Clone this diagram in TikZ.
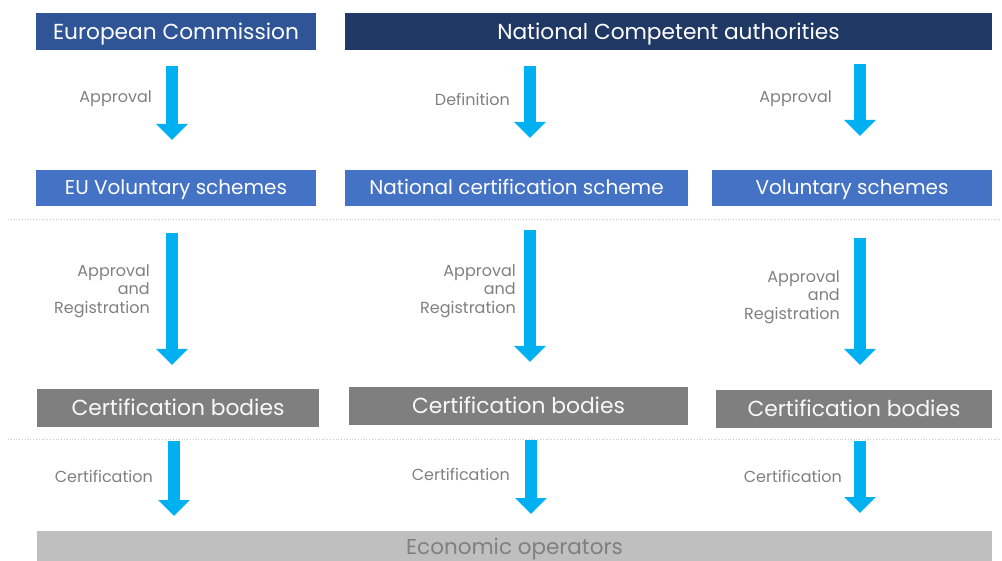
\documentclass[tikz,border=0pt]{standalone}
\usepackage{fontspec}
\setmainfont{Poppins}
\usetikzlibrary{arrows.meta}
\definecolor{ecblue}{HTML}{2F5597}
\definecolor{ncadark}{HTML}{203864}
\definecolor{schemeblue}{HTML}{4472C4}
\definecolor{cbgray}{HTML}{7F7F7F}
\definecolor{eogray}{HTML}{BFBFBF}
\definecolor{arrowcyan}{HTML}{00B0F0}
\definecolor{labelgray}{HTML}{808080}
\tikzset{
  boxbase/.style={inner sep=0pt, text depth=0pt},
  topbox/.style={boxbase, fill=#1, text=white, minimum height=37pt, text height=15.2pt, font=\fontsize{21.7}{26}\selectfont},
  schemebox/.style={boxbase, fill=schemeblue, text=white, minimum height=36pt, text height=14pt, font=\fontsize{20}{24}\selectfont},
  cbbox/.style={boxbase, fill=cbgray, text=white!95!gray, minimum height=38pt, text height=15.3pt, font=\fontsize{21.8}{26}\selectfont},
  eobox/.style={boxbase, fill=eogray, text=labelgray, minimum height=36pt, text height=15.2pt, text depth=4.5pt, font=\fontsize{21.5}{26}\selectfont},
  flowarrow/.style={draw=arrowcyan, line width=12pt, -{Triangle[width=31pt,length=16pt]}},
  lbl/.style={text=labelgray, anchor=east, align=right, inner sep=0pt, font=\fontsize{16}{18.5}\selectfont},
  sep/.style={draw=gray!45, dotted, line width=0.8pt}
}
\begin{document}
\begin{tikzpicture}[x=1pt,y=-1pt]
\useasboundingbox (0,0) rectangle (1002,561);
\clip (0,0) rectangle (1002,561);
% separators
\coordinate (s1a) at (8,219); \coordinate (s1b) at (1000,219);
\coordinate (s2a) at (8,439); \coordinate (s2b) at (1000,439);
\draw[sep] (s1a) -- (s1b);
\draw[sep] (s2a) -- (s2b);
% top boxes
\node[topbox=ecblue, minimum width=280pt] (ec) at (176,31.5) {European Commission};
\node[topbox=ncadark, minimum width=647pt] (nca) at (668.5,31.5) {National Competent authorities};
% scheme boxes
\node[schemebox, minimum width=280pt] (euv) at (176,188) {EU Voluntary schemes};
\node[schemebox, minimum width=343pt] (ncs) at (516.5,188) {National certification scheme};
\node[schemebox, minimum width=280pt] (vs) at (852,188) {Voluntary schemes};
% certification bodies
\node[cbbox, minimum width=282pt] (cb1) at (178,408) {Certification bodies};
\node[cbbox, minimum width=339pt] (cb2) at (518.5,406) {Certification bodies};
\node[cbbox, minimum width=276pt] (cb3) at (854,409) {Certification bodies};
% economic operators
\node[eobox, minimum width=955pt] (eo) at (514.5,549) {Economic operators};
% arrow coordinates
\coordinate (a1s) at (172,66);  \coordinate (a1e) at (172,140);
\coordinate (a2s) at (530,66);  \coordinate (a2e) at (530,138);
\coordinate (a3s) at (860,64);  \coordinate (a3e) at (860,136);
\coordinate (a4s) at (172,233); \coordinate (a4e) at (172,365);
\coordinate (a5s) at (530,230); \coordinate (a5e) at (530,362);
\coordinate (a6s) at (860,238); \coordinate (a6e) at (860,365);
\coordinate (a7s) at (174,441); \coordinate (a7e) at (174,516);
\coordinate (a8s) at (531,440); \coordinate (a8e) at (531,514);
\coordinate (a9s) at (860,441); \coordinate (a9e) at (860,513);
\draw[flowarrow] (a1s) -- (a1e);
\draw[flowarrow] (a2s) -- (a2e);
\draw[flowarrow] (a3s) -- (a3e);
\draw[flowarrow] (a4s) -- (a4e);
\draw[flowarrow] (a5s) -- (a5e);
\draw[flowarrow] (a6s) -- (a6e);
\draw[flowarrow] (a7s) -- (a7e);
\draw[flowarrow] (a8s) -- (a8e);
\draw[flowarrow] (a9s) -- (a9e);
% labels
\node[lbl] (l1) at (152,99) {Approval};
\node[lbl] (l2) at (510,99) {Definition};
\node[lbl] (l3) at (832,99) {Approval};
\node[lbl] (l4) at (150,291) {Approval\\and\\Registration};
\node[lbl] (l5) at (516,291) {Approval\\and\\Registration};
\node[lbl] (l6) at (840,297) {Approval\\and\\Registration};
\node[lbl] (l7) at (153,476) {Certification};
\node[lbl] (l8) at (510,474) {Certification};
\node[lbl] (l9) at (842,476) {Certification};
\end{tikzpicture}
\end{document}
